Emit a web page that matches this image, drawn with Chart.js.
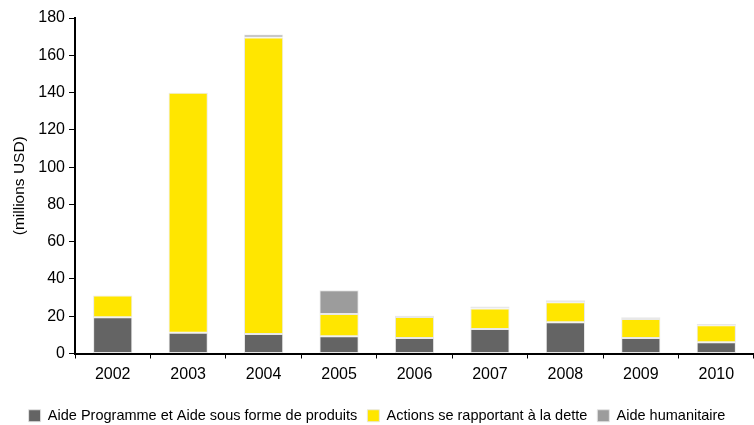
<!DOCTYPE html>
<html>
<head>
<meta charset="utf-8">
<script src="https://cdn.jsdelivr.net/npm/chart.js@4"></script>
<style>
  html, body { margin: 0; padding: 0; background: #fff; overflow: hidden; }
  #wrap { width: 754px; height: 425px; overflow: hidden; }
</style>
</head>
<body>
<div id="wrap"><canvas id="aideChart" width="754" height="433"></canvas></div>
<script>
// Years on the x axis
var years = ['2002', '2003', '2004', '2005', '2006', '2007', '2008', '2009', '2010'];

// Stacked series (millions USD)
var aideProgramme = [19.4, 11.1, 10.4, 9.3, 8.3, 13.1, 16.7, 8.3, 6.1];
var actionsDette = [11.7, 128.8, 159.1, 11.9, 11.3, 11.0, 10.8, 10.2, 9.0];
var aideHumanitaire = [0, 0, 1.7, 12.8, 0.7, 1.1, 1.1, 0.9, 0.7];

// Y axis range
var yMax = 180;
var yStep = 20;

var fontFamily = '"Liberation Sans", Arial, sans-serif';

function makeDataset(label, values, color) {
    return {
        label: label,
        data: values,
        backgroundColor: color,
        borderColor: 'rgba(230,230,230,0.9)',
        borderWidth: 1,
        borderSkipped: false,
        categoryPercentage: 1.0,
        barPercentage: 0.52
    };
}

var ctx = document.getElementById('aideChart').getContext('2d');
var aideChart = new Chart(ctx, {
    type: 'bar',
    data: {
        labels: years,
        datasets: [
            makeDataset('Aide Programme et Aide sous forme de produits', aideProgramme, '#646464'),
            makeDataset('Actions se rapportant à la dette', actionsDette, '#FFE600'),
            makeDataset('Aide humanitaire', aideHumanitaire, '#9C9C9C')
        ]
    },
    options: {
        responsive: false,
        animation: false,
        layout: { padding: { top: 18, right: 0, bottom: 0, left: 0 } },
        plugins: {
            tooltip: { enabled: false },
            legend: {
                position: 'bottom',
                labels: {
                    color: '#000',
                    font: { family: fontFamily, size: 14.5 },
                    boxWidth: 12,
                    boxHeight: 12,
                    padding: 10,
                    useBorderRadius: false
                }
            }
        },
        scales: {
            x: {
                stacked: true,
                offset: true,
                afterFit: function(scale) { scale.height = 45; },
                grid: {
                    offset: true,
                    drawOnChartArea: false,
                    drawTicks: true,
                    tickLength: 5,
                    color: '#000',
                    lineWidth: 1
                },
                border: { display: true, color: '#000', width: 2 },
                ticks: {
                    color: '#000',
                    font: { family: fontFamily, size: 16 },
                    padding: 6,
                    maxRotation: 0
                }
            },
            y: {
                stacked: true,
                min: 0,
                max: yMax,
                afterFit: function(scale) { scale.width = 75; },
                grid: {
                    drawOnChartArea: false,
                    drawTicks: true,
                    tickLength: 6,
                    color: '#000',
                    lineWidth: 1
                },
                border: { display: true, color: '#000', width: 2 },
                ticks: {
                    stepSize: yStep,
                    color: '#000',
                    font: { family: fontFamily, size: 16 },
                    padding: 4
                },
                title: {
                    display: true,
                    text: '(millions USD)',
                    color: '#000',
                    font: { family: fontFamily, size: 15.5 },
                    padding: { top: 10, bottom: 4 }
                }
            }
        }
    }
});
</script>
</body>
</html>
